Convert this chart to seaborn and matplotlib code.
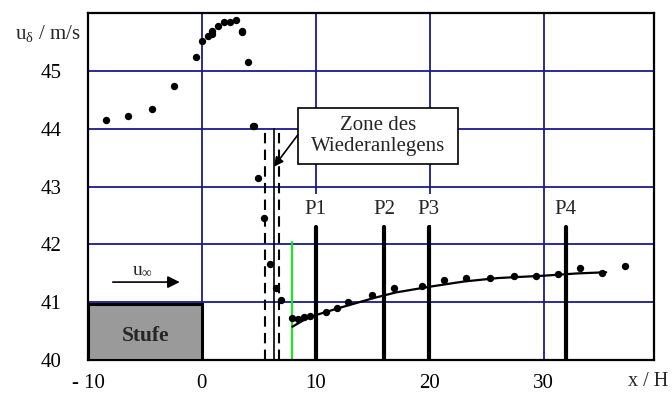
import matplotlib
matplotlib.use("Agg")
import matplotlib.pyplot as plt
import seaborn as sns
import pandas as pd
from matplotlib.patches import Rectangle

# ---- data ----
x_meas = [-8.42, -6.49, -4.36, -2.46, -0.53, 0.0, 0.56, 0.88, 0.9, 1.40, 1.96, 2.46,
          3.01, 3.54, 3.56, 4.04, 4.45, 4.55, 4.91, 5.47, 5.96, 6.49, 6.99, 7.92, 8.45,
          8.95, 9.47, 10.88, 11.87, 12.84, 14.94, 16.87, 19.33, 21.27, 23.16, 25.33,
          27.37, 29.33, 31.26, 33.16, 35.12, 37.19]
u_meas = [44.15, 44.21, 44.33, 44.73, 45.24, 45.52, 45.60, 45.69, 45.64, 45.77, 45.84, 45.84,
          45.87, 45.69, 45.66, 45.15, 44.04, 44.04, 43.14, 42.45, 41.66, 41.24, 41.04, 40.73, 40.71,
          40.74, 40.77, 40.83, 40.90, 41.01, 41.13, 41.24, 41.28, 41.39, 41.42, 41.42,
          41.45, 41.45, 41.49, 41.59, 41.50, 41.62]
x_trend = [7.95, 9.0, 10.0, 12.0, 15.0, 17.0, 20.0, 23.0, 26.0, 30.0, 33.0, 35.5]
u_trend = [40.58, 40.70, 40.78, 40.90, 41.07, 41.17, 41.27, 41.36, 41.42, 41.46, 41.50, 41.52]
probe_names = ["P1", "P2", "P3", "P4"]
probe_x = [10.0, 16.0, 19.9, 31.95]
x_ticks = [-10, 0, 10, 20, 30]
x_ticklabels = ["- 10", "0", "10", "20", "30"]
y_ticks = [40, 41, 42, 43, 44, 45]
zone_solid_x = 6.3
zone_dashed_x = [5.55, 6.8]
green_x = 7.92

sns.set_style("white")
plt.rcParams["font.family"] = ["Liberation Serif", "DejaVu Serif"]
plt.rcParams["mathtext.fontset"] = "custom"
plt.rcParams["mathtext.rm"] = "Liberation Serif"
plt.rcParams["mathtext.it"] = "Liberation Serif:italic"

FS = 15

fig = plt.figure(figsize=(6.72, 3.94), dpi=100)
ax = fig.add_axes([88/672, 1-360.3/394, (654-88)/672, (360.3-12.7)/394])

grid_c = "#1a1a8c"
for xv in [0, 10, 20, 30]:
    ax.axvline(xv, color=grid_c, lw=1.3, zorder=0)
for yv in [41, 42, 43, 44, 45]:
    ax.axhline(yv, color=grid_c, lw=1.3, zorder=0)

# step
ax.add_patch(Rectangle((-10, 40), 10, 0.98, facecolor="#9a9a9a", edgecolor="black",
                       lw=2.2, zorder=3))
ax.text(-4.94, 40.42, "Stufe", ha="center", va="center", fontsize=15.5,
        fontweight="bold", zorder=4)

# u_inf arrow
ax.annotate("", xy=(-1.7, 41.35), xytext=(-8.07, 41.35),
            arrowprops=dict(arrowstyle="-|>", color="black", lw=1.2, mutation_scale=18),
            zorder=4)
ax.text(-5.2, 41.56, r"u$_\mathregular{∞}$", ha="center", va="center", fontsize=14, zorder=4)

# zone lines
ax.plot([zone_solid_x, zone_solid_x], [40, 44], color="black", lw=1.2, zorder=2)
for xd in zone_dashed_x:
    ax.plot([xd, xd], [40, 44], color="black", lw=1.5, ls=(0, (5, 3)), zorder=2)
ax.plot([green_x, green_x], [40, 42.04], color="#11ee11", lw=1.5, zorder=2)

# probe lines
for name, px in zip(probe_names, probe_x):
    ax.plot([px, px], [40, 42.3], color="black", lw=3, zorder=2)
    ax.text(px, 42.6, name, ha="center", va="center", fontsize=FS, zorder=3,
            bbox=dict(boxstyle="square,pad=0.3", facecolor="white", edgecolor="none"))

# trend + data
df_t = pd.DataFrame({"x": x_trend, "u": u_trend})
sns.lineplot(data=df_t, x="x", y="u", color="black", lw=1.6, ax=ax, zorder=5)
df = pd.DataFrame({"x": x_meas, "u": u_meas})
sns.scatterplot(data=df, x="x", y="u", color="black", s=28, edgecolor="black",
                linewidth=0, ax=ax, zorder=6)

# annotation box
ax.add_patch(Rectangle((8.45, 43.39), 14.03, 0.96, facecolor="white", edgecolor="black",
                       lw=1.2, zorder=7))
ax.text(15.47, 43.87, "Zone des\nWiederanlegens", ha="center", va="center",
        fontsize=FS, linespacing=1.15, zorder=8)
ax.annotate("", xy=(6.32, 43.34), xytext=(8.42, 43.89),
            arrowprops=dict(arrowstyle="-|>", color="black", lw=1.2, mutation_scale=14,
                            shrinkA=0, shrinkB=0), zorder=8)

ax.set_xlim(-10, 39.7)
ax.set_ylim(40, 46)
ax.set_xticks(x_ticks)
ax.set_xticklabels(x_ticklabels)
ax.set_yticks(y_ticks)
ax.tick_params(axis="both", length=0, labelsize=FS, colors="black")
ax.tick_params(axis="x", pad=10)
ax.tick_params(axis="y", pad=19)
ax.set_xlabel("")
ax.set_ylabel("")
for sp in ax.spines.values():
    sp.set_visible(True)
    sp.set_color("black")
    sp.set_linewidth(1.6)

fig.text(15/672, 1-33/394, r"u$_\mathregular{δ}$ / m/s", ha="left", va="center", fontsize=FS)
fig.text(668/672, 3/394, "x / H", ha="right", va="bottom", fontsize=14.5)

fig.savefig("out.png", dpi=100)
